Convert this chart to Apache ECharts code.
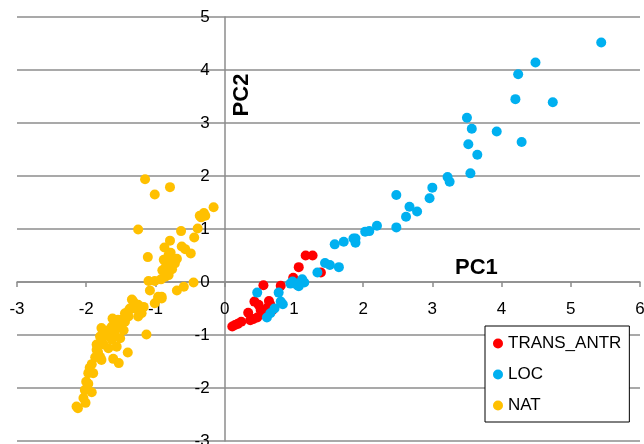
<!DOCTYPE html>
<html>
<head>
<meta charset="utf-8">
<script src="https://cdn.jsdelivr.net/npm/echarts@6/dist/echarts.min.js"></script>
<style>
  html, body {margin: 0; padding: 0; background: #fff;}
  #main {width: 644px; height: 444px;}
</style>
</head>
<body>
<div id="main"></div>
<script>
// data: [PC1, PC2]
let seriesNames = ['TRANS_ANTR', 'LOC', 'NAT'];
let seriesColors = ['#FF0000', '#00B0F0', '#FFC000'];

let transAntr = [
  [0.11, -0.84], [0.15, -0.81], [0.19, -0.79], [0.24, -0.75], [0.37, -0.72],
  [0.41, -0.70], [0.47, -0.67], [0.52, -0.53], [0.59, -0.56], [0.43, -0.37],
  [0.49, -0.43], [0.64, -0.36], [0.66, -0.43], [0.69, -0.53], [0.56, -0.06],
  [0.81, -0.07], [0.99, 0.08], [1.07, 0.28], [1.17, 0.50], [1.27, 0.50],
  [1.39, 0.18], [0.55, -0.60], [0.62, -0.48], [0.34, -0.58], [1.02, -0.02]
];

let loc = [
  [0.47, -0.20], [0.78, -0.20], [0.81, -0.37], [0.84, -0.42], [0.66, -0.59],
  [0.61, -0.67], [0.72, -0.50], [0.95, -0.03], [1.05, -0.03], [1.12, 0.05],
  [1.15, -0.01], [1.07, -0.08], [0.98, 0.01], [1.05, -0.06], [1.34, 0.18],
  [1.45, 0.36], [1.52, 0.32], [1.65, 0.28], [1.59, 0.71], [1.72, 0.76],
  [1.86, 0.82], [1.89, 0.82], [1.89, 0.74], [2.03, 0.95], [2.09, 0.96],
  [2.20, 1.06], [2.48, 1.03], [2.48, 1.64], [2.62, 1.23], [2.67, 1.42],
  [2.78, 1.33], [2.96, 1.58], [3.00, 1.78], [3.22, 1.98], [3.25, 1.89],
  [3.55, 2.05], [3.65, 2.40], [3.52, 2.60], [3.57, 2.89], [3.50, 3.10],
  [3.93, 2.84], [4.29, 2.64], [4.20, 3.45], [4.74, 3.39], [4.24, 3.92],
  [4.49, 4.14], [5.44, 4.52]
];

let nat = [
  [-1.15, 1.94], [-0.79, 1.79], [-1.01, 1.65], [-0.16, 1.41], [-0.28, 1.25],
  [-0.34, 1.22], [-1.25, 0.99], [-0.63, 0.96], [-0.39, 1.01], [-0.44, 0.84],
  [-0.79, 0.78], [-0.87, 0.65], [-0.62, 0.67], [-0.57, 0.62], [-0.49, 0.54],
  [-1.11, 0.47], [-0.81, 0.51], [-0.88, 0.42], [-0.76, 0.42], [-0.72, 0.35],
  [-0.84, 0.32], [-0.76, 0.24], [-0.81, 0.13], [-0.86, 0.10], [-0.92, 0.05],
  [-1.01, 0.02], [-1.10, 0.02], [-0.59, -0.09], [-0.69, -0.16], [-0.45, -0.01],
  [-1.08, -0.16], [-0.96, -0.28], [-0.91, -0.28], [-1.34, -0.33], [-0.91, -0.31],
  [-0.96, -0.31], [-1.01, -0.40], [-1.32, -0.37], [-1.25, -0.43], [-1.17, -0.47],
  [-1.37, -0.50], [-1.44, -0.59], [-1.20, -0.59], [-1.25, -0.65], [-1.39, -0.65],
  [-1.49, -0.75], [-1.56, -0.78], [-1.62, -0.69], [-1.44, -0.75], [-1.63, -0.84],
  [-1.68, -0.91], [-1.78, -0.87], [-1.73, -0.97], [-1.80, -1.03], [-1.78, -1.06],
  [-1.59, -0.97], [-1.13, -0.99], [-1.56, -1.22], [-1.40, -1.33], [-1.61, -1.45],
  [-1.53, -1.53], [-1.83, -1.32], [-1.85, -1.28], [-1.78, -1.47], [-1.80, -1.41],
  [-1.92, -1.55], [-1.90, -1.72], [-1.97, -1.72], [-2.00, -1.88], [-1.97, -1.92],
  [-1.92, -2.08], [-2.02, -2.04], [-2.04, -2.19], [-2.01, -2.28], [-2.12, -2.38],
  [-2.14, -2.35], [-1.63, -1.09], [-1.51, -1.06], [-1.46, -0.91], [-1.54, -0.71],
  [-1.46, -0.69], [-1.39, -0.55], [-1.30, -0.50], [-1.70, -1.02], [-1.66, -0.95],
  [-1.58, -0.88], [-1.50, -0.82], [-1.75, -1.18], [-1.68, -1.25], [-1.87, -1.42],
  [-1.95, -1.62], [-1.85, -1.18], [-0.85, 0.28], [-0.80, 0.37], [-0.90, 0.22],
  [-0.78, 0.55], [-0.69, 0.44], [-0.36, 1.25], [-0.30, 1.30]
];

let xMin = -3, xMax = 6;
let yMin = -3, yMax = 5;

let font = '"Liberation Sans", Arial, Helvetica, sans-serif';
let lineColor = '#8c8c8c';

// grid box in px, the axes cross at (0, 0) so move them in from the edges
let gridLeft = 17, gridRight = 4, gridTop = 17, gridBottom = 3;
let gridW = 644 - gridLeft - gridRight;
let gridH = 444 - gridTop - gridBottom;
let yAxisShift = gridW * (0 - xMin) / (xMax - xMin);
let xAxisShift = gridH * (0 - yMin) / (yMax - yMin);

let chart = echarts.init(document.getElementById('main'));

chart.setOption({
  animation: false,
  textStyle: {fontFamily: font},
  grid: {
    left: gridLeft,
    right: gridRight,
    top: gridTop,
    bottom: gridBottom,
    outerBoundsMode: 'none',
    containLabel: false
  },
  legend: {
    orient: 'vertical',
    left: 485,
    top: 326,
    padding: [9, 8, 8, 8],
    itemWidth: 10,
    itemHeight: 10,
    itemGap: 14,
    icon: 'circle',
    backgroundColor: '#fff',
    borderColor: '#000',
    borderWidth: 1,
    textStyle: {
      fontFamily: font,
      fontSize: 17,
      color: '#000'
    },
    data: seriesNames
  },
  xAxis: {
    type: 'value',
    min: xMin,
    max: xMax,
    interval: 1,
    position: 'bottom',
    offset: -xAxisShift,
    axisLine: {
      onZero: false,
      lineStyle: {color: lineColor, width: 1.5}
    },
    axisTick: {
      show: true,
      length: 5,
      lineStyle: {color: lineColor, width: 1.5}
    },
    axisLabel: {
      margin: 19,
      fontSize: 17,
      color: '#000',
      fontFamily: font,
      showMinLabel: true,
      showMaxLabel: true
    },
    splitLine: {show: false}
  },
  yAxis: {
    type: 'value',
    min: yMin,
    max: yMax,
    interval: 1,
    position: 'left',
    offset: -yAxisShift,
    axisLine: {
      show: true,
      onZero: false,
      lineStyle: {color: lineColor, width: 1.5}
    },
    axisTick: {show: false},
    axisLabel: {
      margin: 15,
      fontSize: 17,
      color: '#000',
      fontFamily: font,
      showMinLabel: true,
      showMaxLabel: true
    },
    splitLine: {
      show: true,
      lineStyle: {color: lineColor, width: 1.5}
    }
  },
  graphic: [{
    type: 'text',
    x: 455,
    y: 268,
    style: {
      text: 'PC1',
      font: 'bold 22px ' + font,
      fill: '#000',
      align: 'left',
      verticalAlign: 'middle'
    }
  }, {
    type: 'text',
    x: 242,
    y: 95,
    rotation: Math.PI / 2,
    style: {
      text: 'PC2',
      font: 'bold 22px ' + font,
      fill: '#000',
      align: 'center',
      verticalAlign: 'middle'
    }
  }],
  series: [transAntr, loc, nat].map((d, i) => ({
    name: seriesNames[i],
    type: 'scatter',
    symbol: 'circle',
    symbolSize: 10,
    itemStyle: {color: seriesColors[i], opacity: 1},
    data: d
  }))
});
</script>
</body>
</html>
